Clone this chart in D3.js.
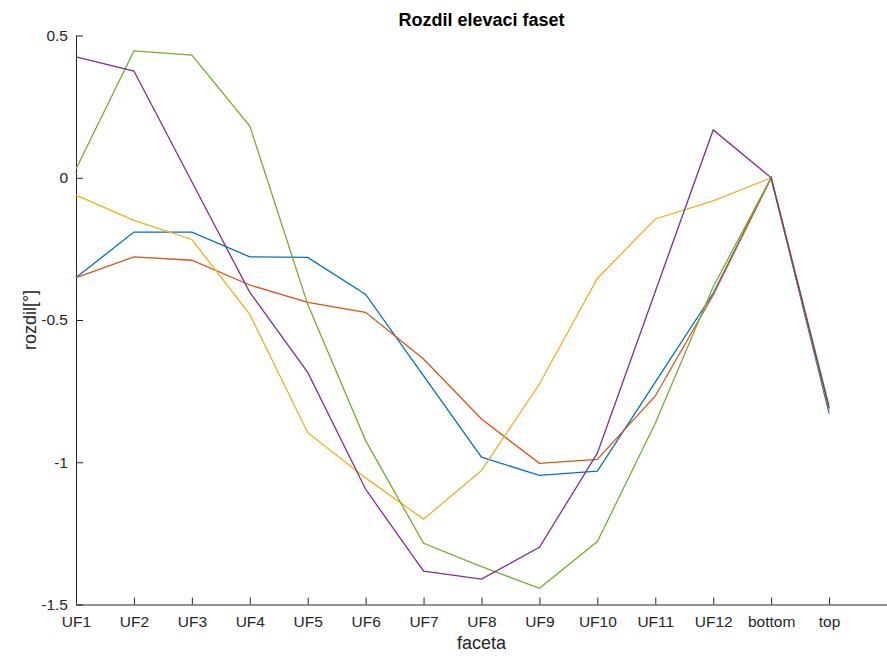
<html>
<head>
<style>
  body { margin: 0; background: #fff; }
  text { font-family: "Liberation Sans", Arial, sans-serif; }
</style>
</head>
<body>
<svg id="chart"></svg>
<script src="https://d3js.org/d3.v7.min.js"></script>
<script>
// categories on the x axis
var categories = ["UF1", "UF2", "UF3", "UF4", "UF5", "UF6", "UF7", "UF8", "UF9", "UF10", "UF11", "UF12", "bottom", "top"]
var yTicks = [-1.5, -1, -0.5, 0, 0.5]

// one array per line
var seriesBlue   = [-0.351, -0.191, -0.191, -0.278, -0.280, -0.410, -0.696, -0.982, -1.046, -1.031, -0.718, -0.406, 0, -0.828]
var seriesRed    = [-0.351, -0.278, -0.290, -0.377, -0.438, -0.473, -0.637, -0.848, -1.004, -0.990, -0.767, -0.412, 0, -0.812]
var seriesYellow = [-0.061, -0.150, -0.217, -0.480, -0.896, -1.055, -1.200, -1.029, -0.725, -0.354, -0.145, -0.081, 0, -0.815]
var seriesGreen  = [0.031, 0.446, 0.431, 0.182, -0.445, -0.924, -1.285, -1.367, -1.443, -1.279, -0.863, -0.383, 0, -0.800]
var seriesPurple = [0.425, 0.375, -0.014, -0.403, -0.684, -1.095, -1.383, -1.411, -1.299, -0.968, -0.400, 0.168, 0, -0.810]

var series = [
    { values: seriesBlue,   color: "#0072BD" },
    { values: seriesRed,    color: "#D95319" },
    { values: seriesYellow, color: "#EDB120" },
    { values: seriesGreen,  color: "#77AC30" },
    { values: seriesPurple, color: "#7E2F8E" }
]

var width = 887, height = 659
var plotLeft = 76, plotRight = 887, plotTop = 35.5, plotBottom = 604.5
var ink = "#262626"

var svg = d3.select("#chart").attr("width", width).attr("height", height)

var x = d3.scaleLinear().domain([1, 15]).range([plotLeft, plotRight])
var y = d3.scaleLinear().domain([-1.5, 0.5]).range([plotBottom, plotTop])

// x axis, ticks pointing in
var xAxis = svg.append("g")
    .attr("transform", "translate(0," + plotBottom + ")")
    .call(d3.axisBottom(x)
        .tickValues(d3.range(1, categories.length + 1))
        .tickFormat(function(d) { return categories[d - 1] })
        .tickSizeInner(-7).tickSizeOuter(0).tickPadding(11))
xAxis.select(".domain").attr("stroke", ink)
xAxis.selectAll(".tick line").attr("stroke", ink)
xAxis.selectAll("text").attr("fill", ink).style("font-size", "15.5px")

// plain hyphen minus like matlab
var yAxis = svg.append("g")
    .attr("transform", "translate(" + plotLeft + ",0)")
    .call(d3.axisLeft(y)
        .tickValues(yTicks)
        .tickFormat(function(d) { return String(d) })
        .tickSizeInner(-7).tickSizeOuter(0).tickPadding(8))
yAxis.select(".domain").attr("stroke", ink)
yAxis.selectAll(".tick line").attr("stroke", ink)
yAxis.selectAll("text").attr("fill", ink).style("font-size", "15.5px")

var line = d3.line()
    .x(function(d, i) { return x(i + 1) })
    .y(function(d) { return y(d) })

svg.selectAll("path.series")
    .data(series)
    .enter()
    .append("path")
    .attr("class", "series")
    .attr("d", function(d) { return line(d.values) })
    .attr("fill", "none")
    .attr("stroke", function(d) { return d.color })
    .attr("stroke-width", 1.3)

svg.append("text")
    .attr("x", (plotLeft + plotRight) / 2).attr("y", 26)
    .attr("text-anchor", "middle")
    .style("font-size", "18px").style("font-weight", "bold")
    .attr("fill", "#000")
    .text("Rozdil elevaci faset")

svg.append("text")
    .attr("x", (plotLeft + plotRight) / 2).attr("y", 649)
    .attr("text-anchor", "middle")
    .style("font-size", "18px")
    .attr("fill", ink)
    .text("faceta")

svg.append("text")
    .attr("transform", "translate(36," + ((plotTop + plotBottom) / 2) + ") rotate(-90)")
    .attr("text-anchor", "middle")
    .style("font-size", "18px")
    .attr("fill", ink)
    .text("rozdil[°]")
</script>
</body>
</html>
